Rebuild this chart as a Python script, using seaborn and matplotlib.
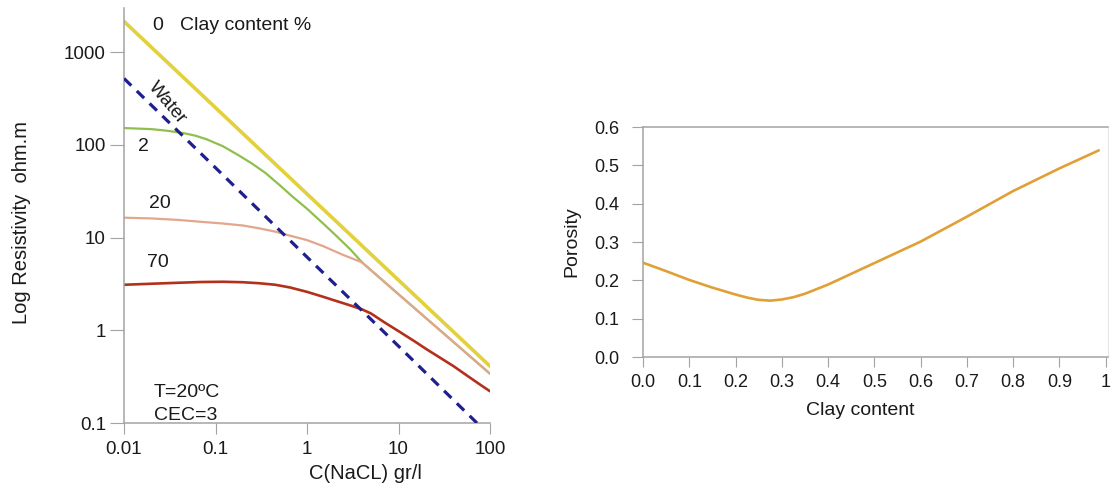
import matplotlib
matplotlib.use("Agg")
import matplotlib.pyplot as plt
import matplotlib.ticker as mticker
import numpy as np
import pandas as pd
import seaborn as sns

# ---- Left panel: resistivity of a clayey sand versus brine concentration ----
conc_clay0 = [0.01, 0.1, 1, 10, 100]
res_clay0 = [2150, 252, 29.6, 3.48, 0.41]

conc_clay2 = [0.01, 0.02, 0.03, 0.045, 0.06, 0.08, 0.12, 0.18, 0.25, 0.35, 0.5, 0.7,
              1, 1.5, 2, 3, 4, 10, 30, 100]
res_clay2 = [152, 148, 142, 134, 126, 115, 97, 77, 63, 50, 37, 27.5,
             20.5, 14.2, 10.9, 7.4, 5.4, 2.45, 0.955, 0.34]

conc_clay20 = [0.01, 0.02, 0.04, 0.07, 0.12, 0.2, 0.3, 0.45, 0.65, 1, 1.5, 2.4, 4, 10, 30, 100]
res_clay20 = [16.4, 16.1, 15.5, 14.8, 14.2, 13.5, 12.6, 11.6, 10.5, 9.4, 8.1, 6.6, 5.4, 2.45, 0.955, 0.34]

conc_clay70 = [0.01, 0.02, 0.04, 0.07, 0.12, 0.2, 0.3, 0.45, 0.65, 1, 1.5, 2, 3, 4, 5, 7,
               10, 15, 20, 30, 40, 60, 80, 100]
res_clay70 = [3.1, 3.18, 3.26, 3.32, 3.34, 3.3, 3.22, 3.1, 2.9, 2.6, 2.3, 2.1, 1.85, 1.68, 1.52, 1.22,
              0.98, 0.76, 0.63, 0.49, 0.41, 0.31, 0.255, 0.22]

conc_water = [0.01, 0.1, 1, 10, 72]
res_water = [521, 56.7, 6.17, 0.675, 0.1]

conc_ticks = [0.01, 0.1, 1, 10, 100]
conc_ticklabels = ["0.01", "0.1", "1", "10", "100"]
res_ticks = [0.1, 1, 10, 100, 1000]
res_ticklabels = ["0.1", "1", "10", "100", "1000"]

# ---- Right panel: porosity versus clay content ----
clay_frac = [0.0, 0.05, 0.1, 0.15, 0.2, 0.225, 0.25, 0.275, 0.3, 0.325, 0.35, 0.4,
             0.5, 0.6, 0.7, 0.8, 0.9, 0.985]
porosity = [0.246, 0.224, 0.201, 0.181, 0.163, 0.155, 0.149, 0.147, 0.150, 0.156, 0.165, 0.189,
            0.245, 0.301, 0.366, 0.433, 0.492, 0.539]

clay_ticks = [0.0, 0.1, 0.2, 0.3, 0.4, 0.5, 0.6, 0.7, 0.8, 0.9, 1.0]
clay_ticklabels = ["0.0", "0.1", "0.2", "0.3", "0.4", "0.5", "0.6", "0.7", "0.8", "0.9", "1"]
por_ticks = [0.0, 0.1, 0.2, 0.3, 0.4, 0.5, 0.6]
por_ticklabels = ["0.0", "0.1", "0.2", "0.3", "0.4", "0.5", "0.6"]

sns.set_theme(style="white")
plt.rcParams["font.family"] = ["Liberation Sans", "DejaVu Sans"]

AXIS_GREY = "#a3a3a3"
TEXT = "#1a1a1a"

fig = plt.figure(figsize=(11.17, 4.90), dpi=100)
ax1 = fig.add_axes([124 / 1117, 67 / 490, 366 / 1117, 415 / 490])
ax2 = fig.add_axes([643 / 1117, 133 / 490, 465 / 1117, 230 / 490])

curves = [
    (conc_clay0, res_clay0, "#e2d03c", 2.6),
    (conc_clay2, res_clay2, "#8fbf4c", 1.6),
    (conc_clay20, res_clay20, "#e2a68c", 1.6),
    (conc_clay70, res_clay70, "#b3301c", 1.9),
]
for xs, ys, col, lw in curves:
    sns.lineplot(x=xs, y=ys, ax=ax1, color=col, lw=lw, sort=False)

sns.lineplot(x=conc_water, y=res_water, ax=ax1, color="#1f1f8e", lw=2.3, sort=False)
water_line = ax1.lines[-1]
water_line.set_dashes((3.2, 2.4))
water_line.set_zorder(5)

ax1.set_xscale("log")
ax1.set_yscale("log")
ax1.set_xlim(0.01, 100)
ax1.set_ylim(0.1, 3000)
ax1.xaxis.set_major_locator(mticker.FixedLocator(conc_ticks))
ax1.xaxis.set_major_formatter(mticker.FixedFormatter(conc_ticklabels))
ax1.yaxis.set_major_locator(mticker.FixedLocator(res_ticks))
ax1.yaxis.set_major_formatter(mticker.FixedFormatter(res_ticklabels))
ax1.xaxis.set_minor_locator(mticker.NullLocator())
ax1.yaxis.set_minor_locator(mticker.NullLocator())

for side in ("top", "right"):
    ax1.spines[side].set_visible(False)
for side in ("left", "bottom"):
    ax1.spines[side].set_color(AXIS_GREY)
    ax1.spines[side].set_linewidth(1.1)

ax1.tick_params(axis="y", which="major", direction="out", length=10, width=0.8,
                color=AXIS_GREY, pad=3, labelsize=13.5, labelcolor=TEXT, left=True)
ax1.tick_params(axis="x", which="major", direction="out", length=8, width=0.8,
                color=AXIS_GREY, pad=5, labelsize=13.5, labelcolor=TEXT, bottom=True)

ax1.set_ylabel("Log Resistivity  ohm.m", fontsize=14.5, color=TEXT, va="center")
ax1.yaxis.set_label_coords((21 - 124) / 366, (423 - 222) / 415)
ax1.set_xlabel("C(NaCL) gr/l", fontsize=14.5, color=TEXT, va="center")
ax1.xaxis.set_label_coords((365 - 124) / 366, (423 - 473) / 415)

ax1.text(0.0207, 1950, "0   Clay content %", fontsize=14, color=TEXT, ha="left", va="center")
ax1.text(0.0300, 285, "Water", fontsize=13.5, color=TEXT, ha="center", va="center",
         rotation=-50, rotation_mode="anchor")
ax1.text(0.0165, 96, "2", fontsize=14, color=TEXT, ha="center", va="center")
ax1.text(0.0247, 23.1, "20", fontsize=14, color=TEXT, ha="center", va="center")
ax1.text(0.0235, 5.4, "70", fontsize=14, color=TEXT, ha="center", va="center")
ax1.text(0.0213, 0.214, "T=20ºC", fontsize=14, color=TEXT, ha="left", va="center")
ax1.text(0.0213, 0.120, "CEC=3", fontsize=14, color=TEXT, ha="left", va="center")

# ---- Right panel ----
sns.lineplot(x=clay_frac, y=porosity, ax=ax2, color="#e0a035", lw=1.9, sort=False)
ax2.set_xlim(0, 1.005)
ax2.set_ylim(0, 0.6)
ax2.xaxis.set_major_locator(mticker.FixedLocator(clay_ticks))
ax2.xaxis.set_major_formatter(mticker.FixedFormatter(clay_ticklabels))
ax2.yaxis.set_major_locator(mticker.FixedLocator(por_ticks))
ax2.yaxis.set_major_formatter(mticker.FixedFormatter(por_ticklabels))

for side in ("left", "bottom", "top"):
    ax2.spines[side].set_color(AXIS_GREY)
    ax2.spines[side].set_linewidth(1.1)
ax2.spines["right"].set_color("#e6e6e6")
ax2.spines["right"].set_linewidth(0.8)

ax2.tick_params(axis="y", direction="out", length=8, width=0.8, color=AXIS_GREY,
                pad=9, labelsize=13, labelcolor=TEXT, left=True)
ax2.tick_params(axis="x", direction="out", length=7, width=0.8, color=AXIS_GREY,
                pad=5, labelsize=13, labelcolor=TEXT, bottom=True)

ax2.set_ylabel("Porosity", fontsize=14, color=TEXT, va="center")
ax2.yaxis.set_label_coords((572 - 643) / 465, 0.5)
ax2.set_xlabel("Clay content", fontsize=14, color=TEXT, va="center")
ax2.xaxis.set_label_coords((860 - 643) / 465, (357 - 410) / 230)

fig.savefig("out.png", dpi=100, facecolor="white")
